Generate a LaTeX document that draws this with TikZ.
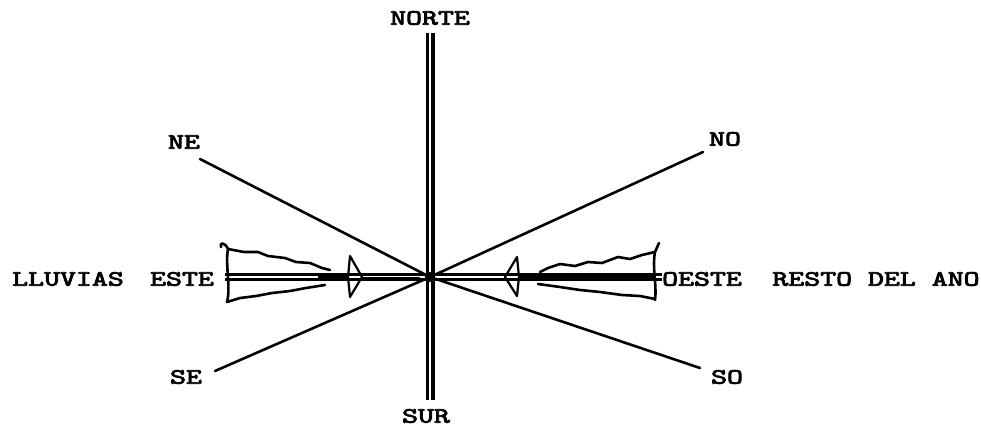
\documentclass[tikz,border=0pt]{standalone}
\usepackage{fontspec}
\usepackage{graphicx}
\newfontfamily\typew[FakeBold=3]{lmmono10-regular.otf}
\newcommand{\tw}[1]{\scalebox{1.38}[1]{\typew\fontsize{22pt}{24pt}\selectfont #1}}
\tikzset{
  lbl/.style={inner sep=0pt, text=black},
  diag/.style={line width=2.6pt, line cap=round},
  vrail/.style={line width=3.2pt},
  hrail/.style={line width=2.4pt},
  flag/.style={line width=2.6pt, line join=round, line cap=round},
  heavy/.style={line width=7pt},
  head/.style={line width=2.2pt, line join=round, fill=white}
}
\begin{document}
\begin{tikzpicture}[x=1pt,y=-1pt]
\useasboundingbox (0,0) rectangle (981,431);
% centre
\coordinate (C) at (430,277);
% diagonal end points
\coordinate (ne) at (200,159);
\coordinate (no) at (703,152);
\coordinate (se) at (215,371);
\coordinate (so) at (700,368);
\draw[diag] (ne) -- (C);
\draw[diag] (C) -- (no);
\draw[diag] (se) -- (C);
\draw[diag] (C) -- (so);
% horizontal double line
\coordinate (wl) at (225,277);
\coordinate (er) at (662,277);
\draw[hrail] ([yshift=-2.4pt]wl) -- ([yshift=-2.4pt]er);
\draw[hrail] ([yshift=2.4pt]wl) -- ([yshift=2.4pt]er);
% vertical double line
\coordinate (nt) at (430,33);
\coordinate (sb) at (430,400);
\draw[vrail] ([xshift=-2.9pt]nt) -- ([xshift=-2.9pt]sb);
\draw[vrail] ([xshift=2.9pt]nt) -- ([xshift=2.9pt]sb);
% heavy parts along the line
\draw[heavy] (318,277) -- (350,277);
\draw[heavy] (519,277) -- (550,277);
\draw[line width=3.8pt] (550,276) -- (656,276);
\draw[line width=3pt] (330,278) -- (420,278);
% left flag
\draw[flag] (221,247) .. controls (219,242) and (225,242) .. (228,249)
  -- (244,252) -- (258,252) -- (268,256) -- (285,258) -- (296,262) -- (310,263) -- (322,268) -- (330,270);
\draw[flag] (228,249) .. controls (225,265) and (231,287) .. (227,302)
  -- (240,298) -- (256,296) -- (272,293) -- (290,291) -- (306,288) -- (325,285);
% right flag
\draw[flag] (659,243) -- (655,252) .. controls (652,268) and (657,285) .. (655,300);
\draw[flag] (655,252) -- (642,255) -- (630,259) -- (618,257) -- (602,263) -- (588,262)
  -- (575,266) -- (560,264) -- (548,268) -- (540,272);
\draw[flag] (655,299) -- (640,296) -- (622,295) -- (600,292) -- (580,290) -- (560,287) -- (538,284);
% arrow heads
\draw[head] (348,277) -- (350,256) -- (362,277) -- (350,297) -- cycle;
\draw[head] (519,277) -- (517,257) -- (505,277) -- (517,296) -- cycle;
\draw[hrail] (348,274.6) -- (361,274.6) (348,279.4) -- (361,279.4);
\draw[hrail] (506,274.6) -- (519,274.6) (506,279.4) -- (519,279.4);
% centre blob
\fill (C) circle (5pt);
% labels
\node[lbl] (norte) at (430,18) {\tw{NORTE}};
\node[lbl] (sur) at (426,416) {\tw{SUR}};
\node[lbl] (nel) at (184,142) {\tw{NE}};
\node[lbl] (nol) at (725,139) {\tw{NO}};
\node[lbl] (sel) at (186,377) {\tw{SE}};
\node[lbl] (sol) at (727,377) {\tw{SO}};
\node[lbl] (lluv) at (68,279) {\tw{LLUVIAS}};
\node[lbl] (este) at (182,279) {\tw{ESTE}};
\node[lbl] (oeste) at (702,279) {\tw{OESTE}};
\node[lbl] (resto) at (876,279) {\tw{RESTO DEL ANO}};
\end{tikzpicture}
\end{document}
